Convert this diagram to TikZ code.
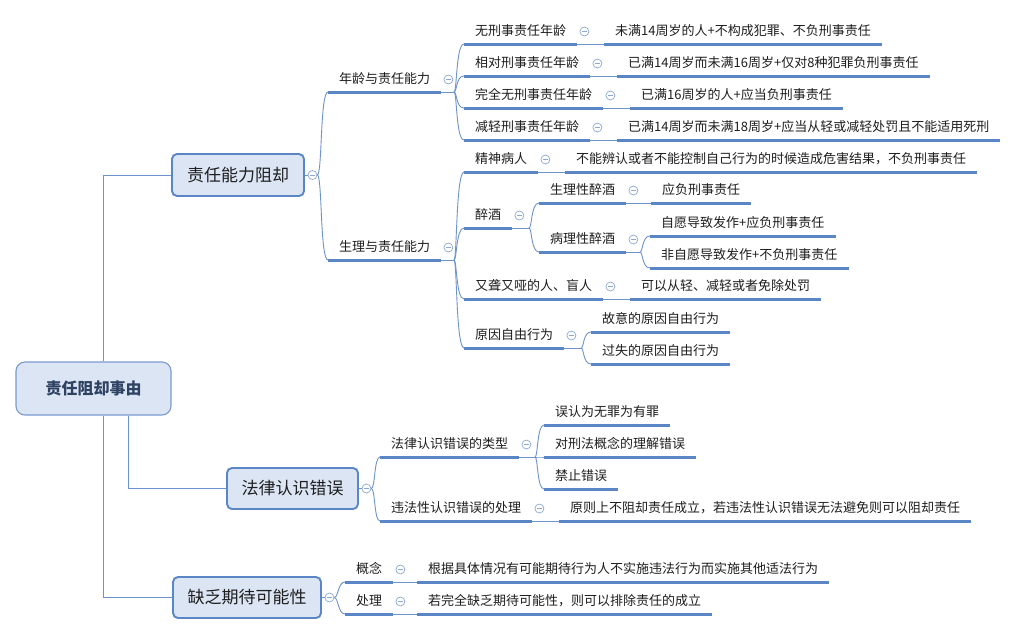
\documentclass[tikz,border=0pt]{standalone}
\usepackage{fontspec}
\newfontfamily\cjk{Noto Sans CJK SC}
\usetikzlibrary{calc}
\definecolor{ulc}{HTML}{5A86C6}
\definecolor{lnc}{HTML}{6C93CC}
\definecolor{boxf}{HTML}{DBE5F4}
\definecolor{boxd}{HTML}{5B86C6}
\definecolor{rootd}{HTML}{7B9BCF}
\definecolor{roott}{HTML}{2F4262}
\definecolor{cc}{HTML}{8CA7D1}
\definecolor{txt}{HTML}{1E1E1E}
\newcommand\mmfs{\cjk\fontsize{13}{15}\selectfont}
\newcommand\mmitem[4]{%
  \node[it] (#1) at (#2,#3) {#4};
  \coordinate (#1-s) at ([yshift=-12.5pt]#1.west);
  \coordinate (#1-e) at ([yshift=-12.5pt]#1.east);
  \draw[ul] (#1-s) -- (#1-e);
}
\newcommand\mmcircle[1]{%
  \node[mmcol] (#1-c) at ([xshift=7pt,yshift=12.5pt]#1-e) {};
}
\begin{document}
\begin{tikzpicture}[x=1pt,y=-1pt,
  it/.style={anchor=west, inner xsep=11pt, inner ysep=0pt, text height=10pt, text depth=2.5pt, font=\mmfs, text=txt},
  ul/.style={draw=ulc, line width=3pt},
  ln/.style={draw=lnc, line width=0.9pt},
  mbox/.style={draw=boxd, line width=1.9pt, fill=boxf, rounded corners=5pt, font=\cjk\fontsize{17}{20}\selectfont, text=txt, inner sep=0pt},
  rootbox/.style={draw=rootd, line width=1.1pt, fill=boxf, rounded corners=9pt, font=\cjk\bfseries\fontsize{16}{19}\selectfont, text=roott, inner sep=0pt},
  mmcol/.style={circle, draw=cc, line width=0.7pt, fill=white, minimum size=9pt, inner sep=0pt,
    path picture={\draw[cc,line width=0.7pt] ([xshift=-2.6pt]path picture bounding box.center) -- ([xshift=2.6pt]path picture bounding box.center);}}
]
\fill[white] (0,0) rectangle (1024,635);
\useasboundingbox (0,0) rectangle (1024,635);

% main boxes
\node[rootbox, minimum width=155pt, minimum height=53pt] (root) at (93.5,388.5) {责任阻却事由};
\node[mbox, minimum width=132pt, minimum height=42pt] (n1) at (238,175) {责任能力阻却};
\node[mbox, minimum width=131pt, minimum height=41pt] (n2) at (292.5,488.5) {法律认识错误};
\node[mbox, minimum width=148pt, minimum height=41pt] (n3) at (247,597.5) {缺乏期待可能性};

\draw[ln] ([xshift=88pt]root.north west) |- (n1.west);
\draw[ln] ([xshift=113pt]root.south west) |- (n2.west);
\draw[ln] ([xshift=88pt]root.south west) |- (n3.west);

\node[mmcol] (n1-c) at ([xshift=7.5pt]n1.east) {};
\node[mmcol] (n2-c) at ([xshift=7.5pt]n2.east) {};
\node[mmcol] (n3-c) at ([xshift=7.5pt]n3.east) {};

% level 1 under n1
\mmitem{A}{328}{79.5}{年龄与责任能力}
\mmitem{B}{328}{247.5}{生理与责任能力}
\mmcircle{A}\mmcircle{B}

% age rows
\mmitem{r1}{464}{31.5}{无刑事责任年龄}
\mmitem{r1x}{604}{31.5}{未满14周岁的人+不构成犯罪、不负刑事责任}
\mmitem{r2}{464}{63.5}{相对刑事责任年龄}
\mmitem{r2x}{617}{63.5}{已满14周岁而未满16周岁+仅对8种犯罪负刑事责任}
\mmitem{r3}{464}{95.5}{完全无刑事责任年龄}
\mmitem{r3x}{630}{95.5}{已满16周岁的人+应当负刑事责任}
\mmitem{r4}{464}{127.5}{减轻刑事责任年龄}
\mmitem{r4x}{617}{127.5}{已满14周岁而未满18周岁+应当从轻或减轻处罚且不能适用死刑}
\mmcircle{r1}\mmcircle{r2}\mmcircle{r3}\mmcircle{r4}
\draw[ln] (r1-e) -- (r1x-s);
\draw[ln] (r2-e) -- (r2x-s);
\draw[ln] (r3-e) -- (r3x-s);
\draw[ln] (r4-e) -- (r4x-s);

% physiology rows
\mmitem{s1}{464}{159.5}{精神病人}
\mmitem{s1x}{565}{159.5}{不能辨认或者不能控制自己行为的时候造成危害结果，不负刑事责任}
\mmitem{s2}{464}{215.5}{醉酒}
\mmitem{s2a}{539}{190.5}{生理性醉酒}
\mmitem{s2ax}{651}{190.5}{应负刑事责任}
\mmitem{s2b}{539}{239.5}{病理性醉酒}
\mmitem{s2b1}{650}{223.5}{自愿导致发作+应负刑事责任}
\mmitem{s2b2}{650}{255.5}{非自愿导致发作+不负刑事责任}
\mmitem{s3}{464}{286.5}{又聋又哑的人、盲人}
\mmitem{s3x}{630}{286.5}{可以从轻、减轻或者免除处罚}
\mmitem{s4}{464}{335.5}{原因自由行为}
\mmitem{s4a}{591}{319.5}{故意的原因自由行为}
\mmitem{s4b}{591}{351.5}{过失的原因自由行为}
\mmcircle{s1}\mmcircle{s2}\mmcircle{s2a}\mmcircle{s2b}\mmcircle{s3}\mmcircle{s4}
\draw[ln] (s1-e) -- (s1x-s);
\draw[ln] (s2a-e) -- (s2ax-s);
\draw[ln] (s3-e) -- (s3x-s);

% node 2
\mmitem{C}{380}{444.5}{法律认识错误的类型}
\mmitem{C1}{544}{412.5}{误认为无罪为有罪}
\mmitem{C2}{544}{444.5}{对刑法概念的理解错误}
\mmitem{C3}{544}{476.5}{禁止错误}
\mmitem{D}{380}{508.5}{违法性认识错误的处理}
\mmitem{Dx}{559}{508.5}{原则上不阻却责任成立，若违法性认识错误无法避免则可以阻却责任}
\mmcircle{C}\mmcircle{D}
\draw[ln] (D-e) -- (Dx-s);

% node 3
\mmitem{E}{345}{569.5}{概念}
\mmitem{Ex}{417}{569.5}{根据具体情况有可能期待行为人不实施违法行为而实施其他适法行为}
\mmitem{F}{345}{601.5}{处理}
\mmitem{Fx}{417}{601.5}{若完全缺乏期待可能性，则可以排除责任的成立}
\mmcircle{E}\mmcircle{F}
\draw[ln] (E-e) -- (Ex-s);
\draw[ln] (F-e) -- (Fx-s);

% curved forks from main boxes
\draw[ln] (n1.east) -- (n1-c.west);
\draw[ln] (n2.east) -- (n2-c.west);
\draw[ln] (n3.east) -- (n3-c.west);
\foreach \c in {A,B} {\draw[ln] (n1-c.east) .. controls +(5,0) and +(-8,0) .. (\c-s);}
\foreach \c in {C,D} {\draw[ln] (n2-c.east) .. controls +(4,0) and +(-6,0) .. (\c-s);}
\foreach \c in {E,F} {\draw[ln] (n3-c.east) .. controls +(4,0) and +(-7,0) .. (\c-s);}

% forks from items
\path (A-e -| r1-s) ++(-10,0) coordinate (Af);
\draw[ln] (A-e) -- (Af);
\foreach \c in {r1,r2,r3,r4} {\draw[ln] (Af) .. controls +(3,0) and +(-8,0) .. (\c-s);}
\path (B-e -| s1-s) ++(-10,0) coordinate (Bf);
\draw[ln] (B-e) -- (Bf);
\foreach \c in {s1,s2,s3,s4} {\draw[ln] (Bf) .. controls +(3,0) and +(-8,0) .. (\c-s);}
\path (s2-e -| s2a-s) ++(-10,0) coordinate (s2f);
\draw[ln] (s2-e) -- (s2f);
\foreach \c in {s2a,s2b} {\draw[ln] (s2f) .. controls +(3,0) and +(-8,0) .. (\c-s);}
\path (s2b-e -| s2b1-s) ++(-10,0) coordinate (s2bf);
\draw[ln] (s2b-e) -- (s2bf);
\foreach \c in {s2b1,s2b2} {\draw[ln] (s2bf) .. controls +(3,0) and +(-8,0) .. (\c-s);}
\path (s4-e -| s4a-s) ++(-10,0) coordinate (s4f);
\draw[ln] (s4-e) -- (s4f);
\foreach \c in {s4a,s4b} {\draw[ln] (s4f) .. controls +(3,0) and +(-8,0) .. (\c-s);}
\path (C-e -| C1-s) ++(-9,0) coordinate (Cf);
\draw[ln] (C-e) -- (Cf);
\foreach \c in {C1,C2,C3} {\draw[ln] (Cf) .. controls +(3,0) and +(-7,0) .. (\c-s);}
\end{tikzpicture}
\end{document}
